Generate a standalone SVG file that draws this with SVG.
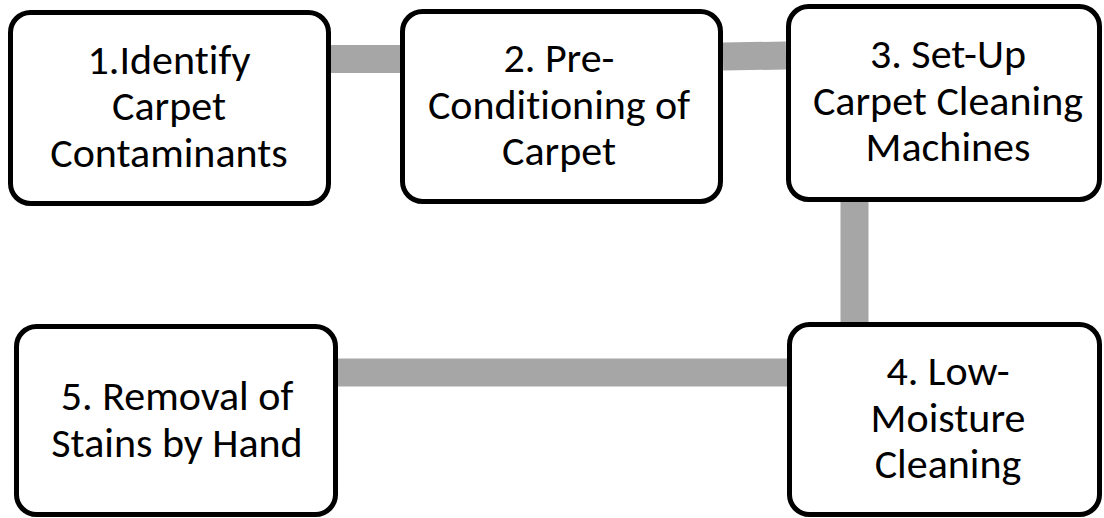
<svg xmlns="http://www.w3.org/2000/svg" width="1104" height="518" viewBox="0 0 1104 518">
  <style>
    .box { fill: #ffffff; stroke: #000000; stroke-width: 5; }
    .conn { stroke: #A6A6A6; stroke-width: 28; fill: none; }
    .lbl { font-family: Carlito, Lato, "Open Sans", sans-serif; font-size: 42px; fill: #000000; text-anchor: middle; font-variant-ligatures: none; }
  </style>
  <rect width="1104" height="518" fill="#ffffff"/>
  <g id="connectors">
    <line class="conn" x1="331" y1="59" x2="400" y2="59"/>
    <line class="conn" x1="723" y1="56.5" x2="786" y2="55.5"/>
    <line class="conn" x1="854.5" y1="202" x2="854.5" y2="322"/>
    <line class="conn" x1="338" y1="372.5" x2="787" y2="372.5"/>
  </g>
  <g id="node1">
    <rect class="box" x="10.5" y="12.5" width="318" height="191" rx="20"/>
    <text class="lbl" x="169" y="74">1.Identify</text>
    <text class="lbl" x="169" y="120">Carpet</text>
    <text class="lbl" x="169" y="167">Contaminants</text>
  </g>
  <g id="node2">
    <rect class="box" x="402.5" y="11.5" width="318" height="190" rx="20"/>
    <text class="lbl" x="559" y="72">2. Pre-</text>
    <text class="lbl" x="559" y="119">Conditioning of</text>
    <text class="lbl" x="559" y="165">Carpet</text>
  </g>
  <g id="node3">
    <rect class="box" x="788.5" y="6.5" width="311" height="193" rx="20"/>
    <text class="lbl" x="948" y="68">3. Set-Up</text>
    <text class="lbl" x="948" y="115">Carpet Cleaning</text>
    <text class="lbl" x="948" y="161">Machines</text>
  </g>
  <g id="node4">
    <rect class="box" x="789.5" y="324.5" width="310" height="190" rx="20"/>
    <text class="lbl" x="948" y="385">4. Low-</text>
    <text class="lbl" x="948" y="432">Moisture</text>
    <text class="lbl" x="948" y="478">Cleaning</text>
  </g>
  <g id="node5">
    <rect class="box" x="16.5" y="326.5" width="319" height="188" rx="20"/>
    <text class="lbl" x="177" y="410">5. Removal of</text>
    <text class="lbl" x="177" y="457">Stains by Hand</text>
  </g>
</svg>
